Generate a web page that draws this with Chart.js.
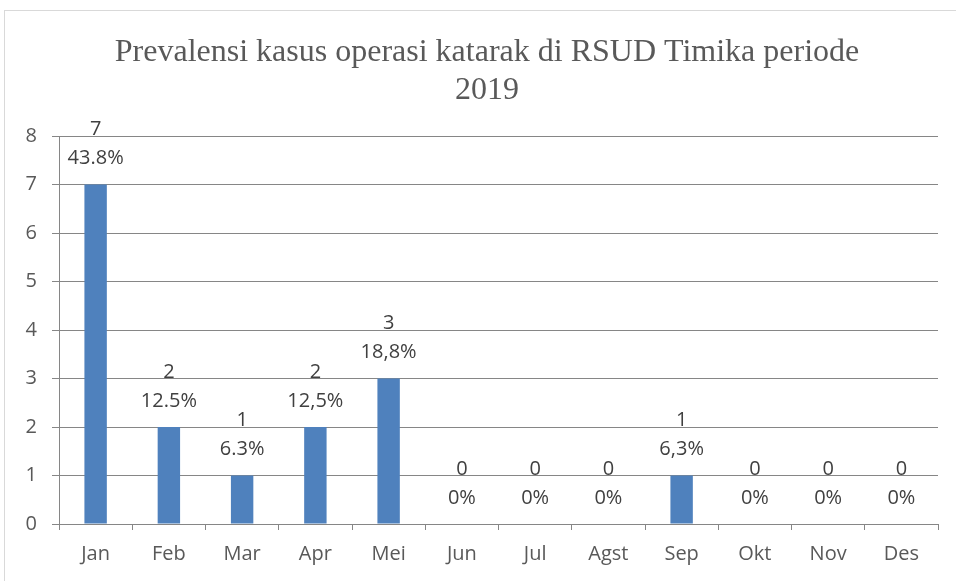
<!DOCTYPE html>
<html>
<head>
<meta charset="utf-8">
<script src="https://cdn.jsdelivr.net/npm/chart.js@4"></script>
<style>
  html, body { margin: 0; padding: 0; background: #fff; }
  #wrap { position: relative; width: 956px; height: 581px; overflow: hidden; }
  #frame { position: absolute; left: 4px; top: 10px; width: 1000px; height: 1000px; border: 1px solid #d9d9d9; box-sizing: border-box; }
  canvas { position: absolute; left: 0; top: 0; }
</style>
</head>
<body>
<div id="wrap">
  <div id="frame"></div>
  <canvas id="c" width="956" height="581"></canvas>
</div>
<script>
const titleLines = ['Prevalensi kasus operasi katarak di RSUD Timika periode', '2019'];
const categories = ['Jan', 'Feb', 'Mar', 'Apr', 'Mei', 'Jun', 'Jul', 'Agst', 'Sep', 'Okt', 'Nov', 'Des'];
const cases = [7, 2, 1, 2, 3, 0, 0, 0, 1, 0, 0, 0];
const percentLabels = ['43.8%', '12.5%', '6.3%', '12,5%', '18,8%', '0%', '0%', '0%', '6,3%', '0%', '0%', '0%'];
const yTicks = [0, 1, 2, 3, 4, 5, 6, 7, 8];

const labelPlugin = {
  id: 'twoLineLabels',
  afterDatasetsDraw(chart) {
    const ctx = chart.ctx;
    const meta = chart.getDatasetMeta(0);
    ctx.save();
    ctx.font = '20px "Open Sans"';
    ctx.fillStyle = '#404040';
    ctx.textAlign = 'center';
    ctx.textBaseline = 'middle';
    meta.data.forEach((bar, i) => {
      ctx.fillText(String(cases[i]), bar.x, bar.y - 55);
      ctx.fillText(percentLabels[i], bar.x, bar.y - 26);
    });
    ctx.restore();
  }
};

const titlePlugin = {
  id: 'offsetTitle',
  afterDraw(chart) {
    const ctx = chart.ctx;
    ctx.save();
    ctx.font = '32px "Liberation Serif"';
    ctx.fillStyle = '#595959';
    ctx.textAlign = 'center';
    ctx.textBaseline = 'middle';
    titleLines.forEach((line, i) => {
      ctx.fillText(line, 487, 53 + i * 38);
    });
    ctx.restore();
  }
};

new Chart(document.getElementById('c'), {
  type: 'bar',
  data: {
    labels: categories,
    datasets: [{
      data: cases,
      backgroundColor: '#4f81bd',
      borderWidth: 0,
      categoryPercentage: 0.6,
      barPercentage: 0.51
    }]
  },
  options: {
    responsive: false,
    animation: false,
    devicePixelRatio: 1,
    layout: { padding: { left: 0, right: 18, top: 136, bottom: 0 } },
    plugins: {
      legend: { display: false },
      tooltip: { enabled: false },
      title: { display: false }
    },
    scales: {
      x: {
        offset: true,
        grid: { offset: true, drawOnChartArea: false, drawTicks: true, tickLength: 6, color: '#868686' },
        border: { color: '#868686', width: 1 },
        ticks: { color: '#595959', font: { family: '"Open Sans"', size: 20 }, padding: 12 },
        afterFit(scale) { scale.height = 57; }
      },
      y: {
        min: 0,
        max: 8,
        afterBuildTicks(scale) { scale.ticks = yTicks.map(v => ({ value: v })); },
        grid: { color: '#868686', tickLength: 7, lineWidth: 1 },
        border: { color: '#868686', width: 1 },
        ticks: { color: '#595959', font: { family: '"Open Sans"', size: 20 }, padding: 15 },
        afterFit(scale) { scale.width = 59; }
      }
    }
  },
  plugins: [labelPlugin, titlePlugin]
});
</script>
</body>
</html>
